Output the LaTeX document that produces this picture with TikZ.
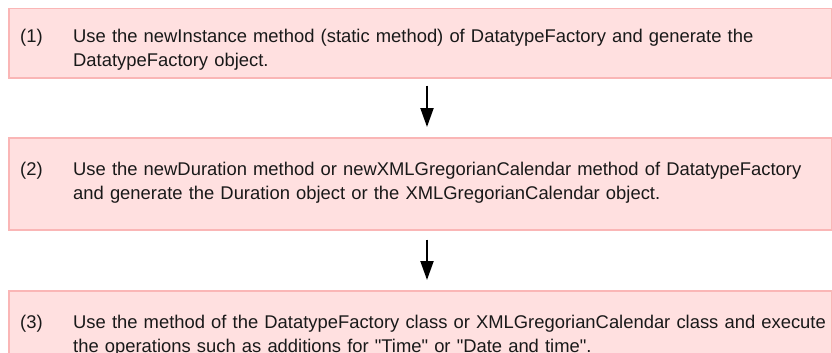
\documentclass[tikz,border=0pt]{standalone}
\usepackage{fontspec}
\setmainfont{Liberation Sans}
\usetikzlibrary{calc,arrows.meta}
\hyphenpenalty=10000
\definecolor{stepfill}{RGB}{255,224,224}
\definecolor{stepline}{RGB}{250,182,182}
\definecolor{steptext}{RGB}{25,25,25}
\tikzset{
	stepbox/.style={draw=stepline, line width=1.5pt, fill=stepfill, rectangle, anchor=north west, minimum width=823pt, inner sep=0pt},
	stepno/.style={anchor=base west, inner sep=0pt, text=steptext, font=\fontsize{18.4}{24}\selectfont},
	steptxt/.style={anchor=base west, inner sep=0pt, text=steptext, text width=800pt, align=left, font=\fontsize{18.4}{24}\selectfont},
	flow/.style={line width=2pt, -{Triangle[length=19pt,width=13pt]}}
}

\begin{document}
\begin{tikzpicture}[x=1pt, y=-1pt]
			%%%%% START %%%%%
			
			\clip (0, 0) rectangle (832, 353);
			
			\node[stepbox, minimum height=69pt] (box1) at (8, 8) {};
			\node[stepno] (no1) at ($(box1.north west)+(12, 35)$) {(1)};
			\node[steptxt] (txt1) at ($(box1.north west)+(65, 35)$) {Use the newInstance method (static method) of DatatypeFactory and generate the\\DatatypeFactory object.};
			
			\node[stepbox, minimum height=92pt] (box2) at (8, 137) {};
			\node[stepno] (no2) at ($(box2.north west)+(12, 38)$) {(2)};
			\node[steptxt] (txt2) at ($(box2.north west)+(65, 38)$) {Use the newDuration method or newXMLGregorianCalendar method of DatatypeFactory\\and generate the Duration object or the XMLGregorianCalendar object.};
			
			\node[stepbox, minimum height=92pt] (box3) at (8, 290) {};
			\node[stepno] (no3) at ($(box3.north west)+(12, 38)$) {(3)};
			\node[steptxt] (txt3) at ($(box3.north west)+(65, 38)$) {Use the method of the DatatypeFactory class or XMLGregorianCalendar class and execute\\the operations such as additions for \textquotedbl Time\textquotedbl{} or \textquotedbl Date and time\textquotedbl.};
			
			\coordinate (axis) at (427, 0);
			\draw[flow, shorten <=7pt, shorten >=10pt] (box1.south -| axis) -- (box2.north -| axis);
			\draw[flow, shorten <=9pt, shorten >=10pt] (box2.south -| axis) -- (box3.north -| axis);
			
			%%%%% END %%%%%
\end{tikzpicture}
\end{document}
